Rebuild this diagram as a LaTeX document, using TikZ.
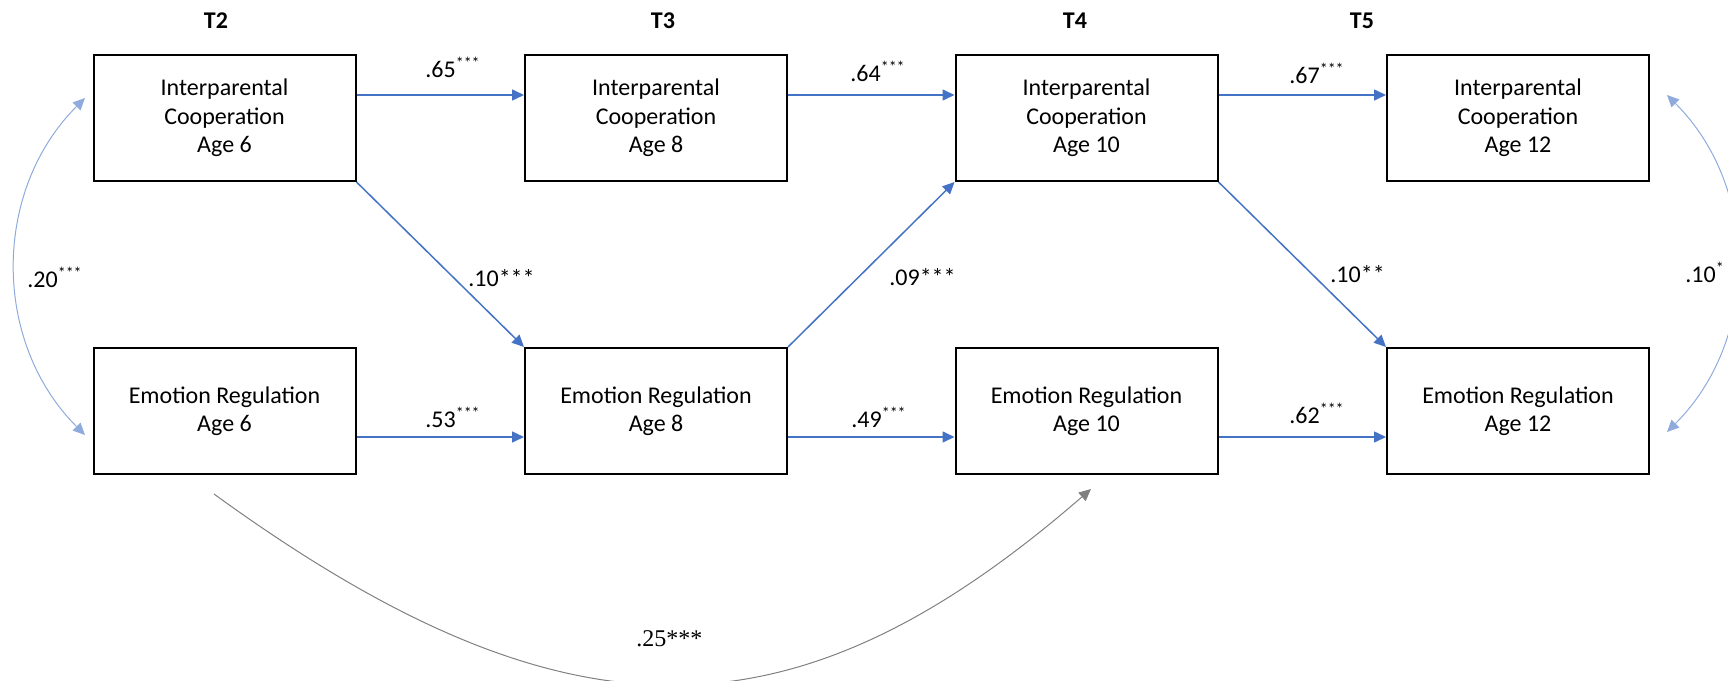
\documentclass[tikz,border=0pt]{standalone}
\usepackage{fontspec}
\setmainfont{Carlito}
\newfontfamily\timesfont{Liberation Serif}
\usetikzlibrary{arrows.meta}
\definecolor{regblue}{HTML}{4472C4}
\definecolor{covblue}{HTML}{8FAADC}
\definecolor{covgray}{HTML}{808080}

\begin{document}
\begin{tikzpicture}[x=0.5pt,y=-0.5pt,
  box/.style={draw,line width=1pt,minimum width=131pt,minimum height=63pt,
    inner sep=0pt,align=center,font=\fontsize{12}{14.2}\selectfont},
  lbl/.style={anchor=base west,inner sep=0pt,font=\fontsize{12}{14.2}\selectfont},
  wave/.style={anchor=base,inner sep=0pt,font=\fontsize{12}{14.2}\selectfont\bfseries},
  reg/.style={regblue,line width=0.75pt,-{Triangle[length=6pt,width=5.5pt]}},
  cov/.style={covblue,line width=0.5pt,
    {Triangle[length=6pt,width=5.5pt]}-{Triangle[length=6pt,width=5.5pt]}},
  stab/.style={covgray,line width=0.5pt,-{Triangle[length=6pt,width=5.5pt]}}]
\useasboundingbox (0,0) rectangle (1728,680);

% waves
\node[wave] (t2) at (216,28) {T2};
\node[wave] (t3) at (663,28) {T3};
\node[wave] (t4) at (1075,28) {T4};
\node[wave] (t5) at (1362,28) {T5};

% interparental cooperation
\node[box] (ic6) at (224.5,118) {Interparental\\Cooperation\\Age 6};
\node[box] (ic8) at (656,118) {Interparental\\Cooperation\\Age 8};
\node[box] (ic10) at (1086.5,118) {Interparental\\Cooperation\\Age 10};
\node[box] (ic12) at (1518,118) {Interparental\\Cooperation\\Age 12};

% emotion regulation
\node[box] (er6) at (224.5,411) {Emotion Regulation\\Age 6};
\node[box] (er8) at (656,411) {Emotion Regulation\\Age 8};
\node[box] (er10) at (1086.5,411) {Emotion Regulation\\Age 10};
\node[box] (er12) at (1518,411) {Emotion Regulation\\Age 12};

% stability paths
\draw[reg] ([yshift=11.5pt]ic6.east) -- ([yshift=11.5pt]ic8.west);
\draw[reg] ([yshift=11.5pt]ic8.east) -- ([yshift=11.5pt]ic10.west);
\draw[reg] ([yshift=11.5pt]ic10.east) -- ([yshift=11.5pt]ic12.west);
\draw[reg] ([yshift=-13pt]er6.east) -- ([yshift=-13pt]er8.west);
\draw[reg] ([yshift=-13pt]er8.east) -- ([yshift=-13pt]er10.west);
\draw[reg] ([yshift=-13pt]er10.east) -- ([yshift=-13pt]er12.west);

% cross-lagged paths
\draw[reg] (ic6.south east) -- (er8.north west);
\draw[reg] (er8.north east) -- (ic10.south west);
\draw[reg] (ic10.south east) -- (er12.north west);

% covariances
\draw[cov] ([shift={(-7.5,-20)}]ic6.west) .. controls +(-93,93) and +(-93,-93) .. ([shift={(-7.5,24)}]er6.west);
\draw[cov] ([shift={(17,-23)}]ic12.east) .. controls +(93,93) and +(93,-93) .. ([shift={(17,21)}]er12.east);
\draw[stab] ([shift={(-10.5,19)}]er6.south) .. controls +(354,257) and +(-296,257) .. ([shift={(4.5,14)}]er10.south);

% coefficients
\node[lbl] (b65) at (425,77) {.65\textsuperscript{***}};
\node[lbl] (b64) at (850,81) {.64\textsuperscript{***}};
\node[lbl] (b67) at (1289,83) {.67\textsuperscript{***}};
\node[lbl] (b53) at (425,427) {.53\textsuperscript{***}};
\node[lbl] (b49) at (851,427) {.49\textsuperscript{***}};
\node[lbl] (b62) at (1289,423) {.62\textsuperscript{***}};
\node[lbl] (b10a) at (468,286) {.10***};
\node[lbl] (b09) at (889,285) {.09***};
\node[lbl] (b10b) at (1330,282) {.10**};
\node[lbl] (r20) at (27,287) {.20\textsuperscript{***}};
\node[lbl] (r10) at (1685,282) {.10\textsuperscript{*}};
\node[lbl,font=\timesfont\fontsize{12}{14}\selectfont] (b25) at (636,646) {.25***};
\end{tikzpicture}
\end{document}
